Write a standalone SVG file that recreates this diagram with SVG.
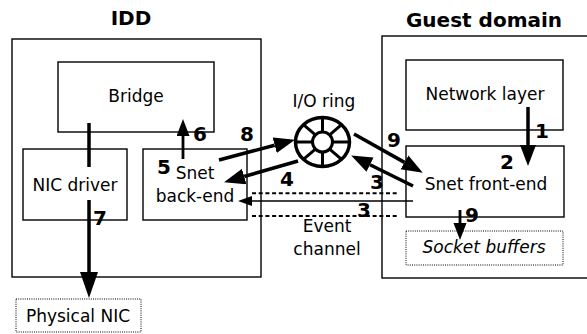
<svg xmlns="http://www.w3.org/2000/svg" width="587" height="334" viewBox="0 0 587 334">
  <style>
    .box { fill: #fff; stroke: #000; stroke-width: 1.4; }
    .dot { fill: #fff; stroke: #000; stroke-width: 1; stroke-dasharray: 1 1.2; }
    .t { font-family: "DejaVu Sans", sans-serif; font-size: 17px; fill: #000; text-anchor: middle; }
    .title { font-family: "DejaVu Sans", sans-serif; font-size: 20px; font-weight: bold; fill: #000; text-anchor: middle; }
    .num { font-family: "DejaVu Sans", sans-serif; font-size: 20px; font-weight: bold; fill: #000; }
    .arr { fill: none; stroke: #000; stroke-width: 3.5; }
    .mid { fill: none; stroke: #000; stroke-width: 2.8; }
    .thin { fill: none; stroke: #000; stroke-width: 1.4; }
    .dash { fill: none; stroke: #000; stroke-width: 2; stroke-dasharray: 4 2.7; }
  </style>
  <defs>
    <marker id="headL" markerUnits="userSpaceOnUse" markerWidth="28" markerHeight="20" refX="0" refY="9" orient="auto">
      <path d="M0,0 L26,9 L0,18 z" fill="#000"/>
    </marker>
    <marker id="headM" markerUnits="userSpaceOnUse" markerWidth="22" markerHeight="18" refX="0" refY="8" orient="auto">
      <path d="M0,0 L21,8 L0,16 z" fill="#000"/>
    </marker>
    <marker id="headS" markerUnits="userSpaceOnUse" markerWidth="18" markerHeight="14" refX="0" refY="6.5" orient="auto">
      <path d="M0,0 L17,6.5 L0,13 z" fill="#000"/>
    </marker>
    <marker id="headT" markerUnits="userSpaceOnUse" markerWidth="16" markerHeight="12" refX="0" refY="5" orient="auto">
      <path d="M0,0 L14,5 L0,10 z" fill="#000"/>
    </marker>
  </defs>

  <!-- domain containers -->
  <g id="idd">
    <text class="title" x="131" y="25">IDD</text>
    <rect class="box" x="12" y="39" width="249" height="238"/>
  </g>
  <g id="guest-domain">
    <text class="title" x="484" y="27">Guest domain</text>
    <rect class="box" x="382" y="36" width="212" height="242"/>
  </g>

  <!-- IDD components -->
  <g id="bridge">
    <rect class="box" x="58" y="62" width="156" height="70"/>
    <text class="t" x="136" y="102">Bridge</text>
  </g>
  <g id="nic-driver">
    <rect class="box" x="23" y="149" width="104" height="71"/>
    <text class="t" x="75" y="191">NIC driver</text>
  </g>
  <g id="snet-back-end">
    <rect class="box" x="143" y="149" width="104" height="71"/>
    <text class="t" x="195" y="179">Snet</text>
    <text class="t" x="195" y="202">back-end</text>
  </g>
  <g id="physical-nic">
    <rect class="dot" x="16" y="299" width="125" height="33"/>
    <text class="t" x="78" y="322">Physical NIC</text>
  </g>

  <!-- guest components -->
  <g id="network-layer">
    <rect class="box" x="406" y="60" width="157" height="70"/>
    <text class="t" x="485" y="100">Network layer</text>
  </g>
  <g id="snet-front-end">
    <rect class="box" x="406" y="146" width="158" height="71"/>
    <text class="t" x="486" y="190">Snet front-end</text>
  </g>
  <g id="socket-buffers">
    <rect class="dot" x="406" y="231" width="157" height="34"/>
    <text class="t" x="484" y="253" font-style="italic">Socket buffers</text>
  </g>

  <!-- shared ring: outer rim, hub and eight spokes -->
  <g id="io-ring">
    <text class="t" x="324" y="107">I/O ring</text>
    <ellipse cx="322.5" cy="142" rx="27" ry="24.5" fill="#fff" stroke="#000" stroke-width="3.5"/>
    <circle cx="322.5" cy="142" r="10" fill="#fff" stroke="#000" stroke-width="3"/>
    <g stroke="#000" stroke-width="3">
      <line x1="332.5" y1="142" x2="349.5" y2="142"/>
      <line x1="312.5" y1="142" x2="295.5" y2="142"/>
      <line x1="322.5" y1="132" x2="322.5" y2="117.5"/>
      <line x1="322.5" y1="152" x2="322.5" y2="166.5"/>
      <line x1="329.6" y1="134.9" x2="341.6" y2="124.7"/>
      <line x1="315.4" y1="134.9" x2="303.4" y2="124.7"/>
      <line x1="329.6" y1="149.1" x2="341.6" y2="159.3"/>
      <line x1="315.4" y1="149.1" x2="303.4" y2="159.3"/>
    </g>
  </g>

  <g id="event-channel">
    <text class="t" x="327" y="232">Event</text>
    <text class="t" x="327" y="255">channel</text>
  </g>

  <!-- connectors -->
  <g id="connectors">
    <line class="arr" x1="89" y1="123" x2="89" y2="167"/>
    <line class="arr" x1="89" y1="200" x2="89" y2="272" marker-end="url(#headL)"/>
    <line class="arr" x1="528" y1="107" x2="528" y2="145" marker-end="url(#headM)"/>
    <line class="mid" x1="183" y1="159" x2="183" y2="136" marker-end="url(#headS)"/>
    <line class="arr" x1="219" y1="160" x2="274.7" y2="145.2" marker-end="url(#headM)"/>
    <line class="arr" x1="298" y1="161" x2="244.2" y2="176.5" marker-end="url(#headM)"/>
    <line class="arr" x1="354" y1="134" x2="404.5" y2="162.4" marker-end="url(#headM)"/>
    <line class="arr" x1="413" y1="186" x2="370" y2="164.7" marker-end="url(#headM)"/>
    <line class="mid" x1="460" y1="210" x2="460" y2="223" marker-end="url(#headS)"/>
    <line class="thin" x1="413" y1="201" x2="252" y2="201" marker-end="url(#headT)"/>
    <line class="dash" x1="252" y1="193.3" x2="397" y2="193.3"/>
    <line class="dash" x1="252" y1="216" x2="397" y2="216"/>
  </g>

  <!-- step numbers -->
  <g id="steps">
    <text class="num" x="535" y="138">1</text>
    <text class="num" x="500" y="169">2</text>
    <text class="num" x="370" y="189">3</text>
    <text class="num" x="357" y="217">3</text>
    <text class="num" x="280" y="186">4</text>
    <text class="num" x="157" y="174">5</text>
    <text class="num" x="193" y="141">6</text>
    <text class="num" x="93" y="225">7</text>
    <text class="num" x="240" y="141">8</text>
    <text class="num" x="387" y="147">9</text>
    <text class="num" x="465" y="222">9</text>
  </g>
</svg>
